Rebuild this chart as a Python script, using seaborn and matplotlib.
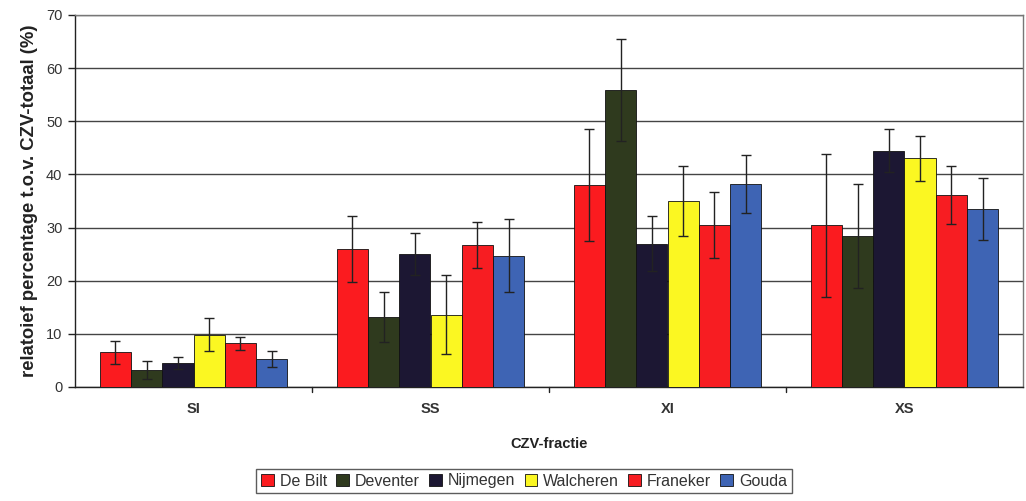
import matplotlib
matplotlib.use("Agg")
import matplotlib.pyplot as plt
import seaborn as sns
import pandas as pd
import numpy as np

# CZV fractions and sampling sites
fractions = ["SI", "SS", "XI", "XS"]
sites = ["De Bilt", "Deventer", "Nijmegen", "Walcheren", "Franeker", "Gouda"]

# Mean relative percentage per site, one list per fraction (site order as above)
si_mean = [6.5, 3.2, 4.5, 9.8, 8.2, 5.2]
ss_mean = [26.0, 13.2, 25.0, 13.6, 26.7, 24.7]
xi_mean = [38.0, 55.9, 27.0, 35.0, 30.4, 38.2]
xs_mean = [30.4, 28.4, 44.5, 43.0, 36.1, 33.5]

# Standard deviations (error bar half-lengths)
si_sd = [2.1, 1.7, 1.2, 3.1, 1.2, 1.5]
ss_sd = [6.2, 4.7, 4.0, 7.4, 4.4, 6.9]
xi_sd = [10.6, 9.6, 5.1, 6.6, 6.2, 5.4]
xs_sd = [13.5, 9.8, 4.1, 4.2, 5.5, 5.8]

site_colors = ["#fb1b1f", "#2f3a1e", "#1c1733", "#fbf722", "#f71d22", "#3e64b4"]

means = [si_mean, ss_mean, xi_mean, xs_mean]
sds = [si_sd, ss_sd, xi_sd, xs_sd]
rows = []
for frac, m_list, s_list in zip(fractions, means, sds):
    for site, m, s in zip(sites, m_list, s_list):
        rows.append({"fractie": frac, "site": site, "mean": m, "sd": s})
df = pd.DataFrame(rows)

sns.set_theme(style="white")
plt.rcParams["font.family"] = ["Liberation Sans", "DejaVu Sans"]

fig = plt.figure(figsize=(10.26, 5.01), dpi=100)
ax = fig.add_axes([75 / 1026, 114 / 501, (1023 - 75) / 1026, (387 - 15) / 501])

sns.barplot(data=df, x="fractie", y="mean", hue="site", order=fractions,
            hue_order=sites, palette=site_colors, width=0.79, errorbar=None,
            edgecolor="#111111", linewidth=0.6, saturation=1, ax=ax, zorder=3)

# Error bars placed at the centre and top of each drawn bar
for container, site in zip(ax.containers, sites):
    sub = df[df["site"] == site].set_index("fractie").loc[fractions]
    xs = [p.get_x() + p.get_width() / 2 for p in container.patches]
    hs = [p.get_height() for p in container.patches]
    ax.errorbar(xs, hs, yerr=sub["sd"].values, fmt="none", ecolor="#222222",
                elinewidth=1.0, capsize=3.5, capthick=1.0, zorder=4)

ax.set_ylim(0, 70)
ax.set_yticks(np.arange(0, 71, 10))
ax.set_xlim(-0.5, 3.5)
ax.yaxis.grid(True, color="#444444", linewidth=1.0, zorder=0)
ax.set_axisbelow(True)

for side in ["left", "bottom"]:
    ax.spines[side].set_color("#222222")
    ax.spines[side].set_linewidth(1.0)
for side in ["top", "right"]:
    ax.spines[side].set_color("#777777")
    ax.spines[side].set_linewidth(1.0)

ax.tick_params(axis="y", which="both", left=True, length=5, width=1,
               color="#222222", labelsize=10.5, labelcolor="#333333", pad=4)
ax.set_xticks([0, 1, 2, 3])
ax.set_xticklabels(fractions, fontsize=10.5, color="#333333", fontweight="bold")
ax.tick_params(axis="x", bottom=False, pad=15)
# Small ticks on the category boundaries
for b in [0.5, 1.5, 2.5]:
    ax.plot([b, b], [0, -0.9], color="#222222", lw=1, clip_on=False, zorder=5)

ax.set_xlabel("CZV-fractie", fontsize=10.5, fontweight="bold", color="#222222", labelpad=15)
ax.set_ylabel("relatoief percentage t.o.v. CZV-totaal (%)", fontsize=13.3,
              fontweight="bold", color="#222222", labelpad=6)

# Pull the category labels closer to the axis line
for lbl in ax.get_xticklabels():
    lbl.set_y(0)
ax.tick_params(axis="x", pad=5)

handles, labels = ax.get_legend_handles_labels()
if ax.legend_:
    ax.legend_.remove()
leg = fig.legend(handles, labels, loc="center", bbox_to_anchor=(524 / 1026, 1 - 481 / 501),
                 ncol=6, frameon=True, fancybox=False, fontsize=11.5,
                 handlelength=0.8, handleheight=0.8, handletextpad=0.35,
                 columnspacing=0.6, borderpad=0.3, borderaxespad=0)
leg.get_frame().set_edgecolor("#333333")
leg.get_frame().set_linewidth(1.0)
for t in leg.get_texts():
    t.set_color("#333333")

fig.savefig("out.png", dpi=100, facecolor="white")
